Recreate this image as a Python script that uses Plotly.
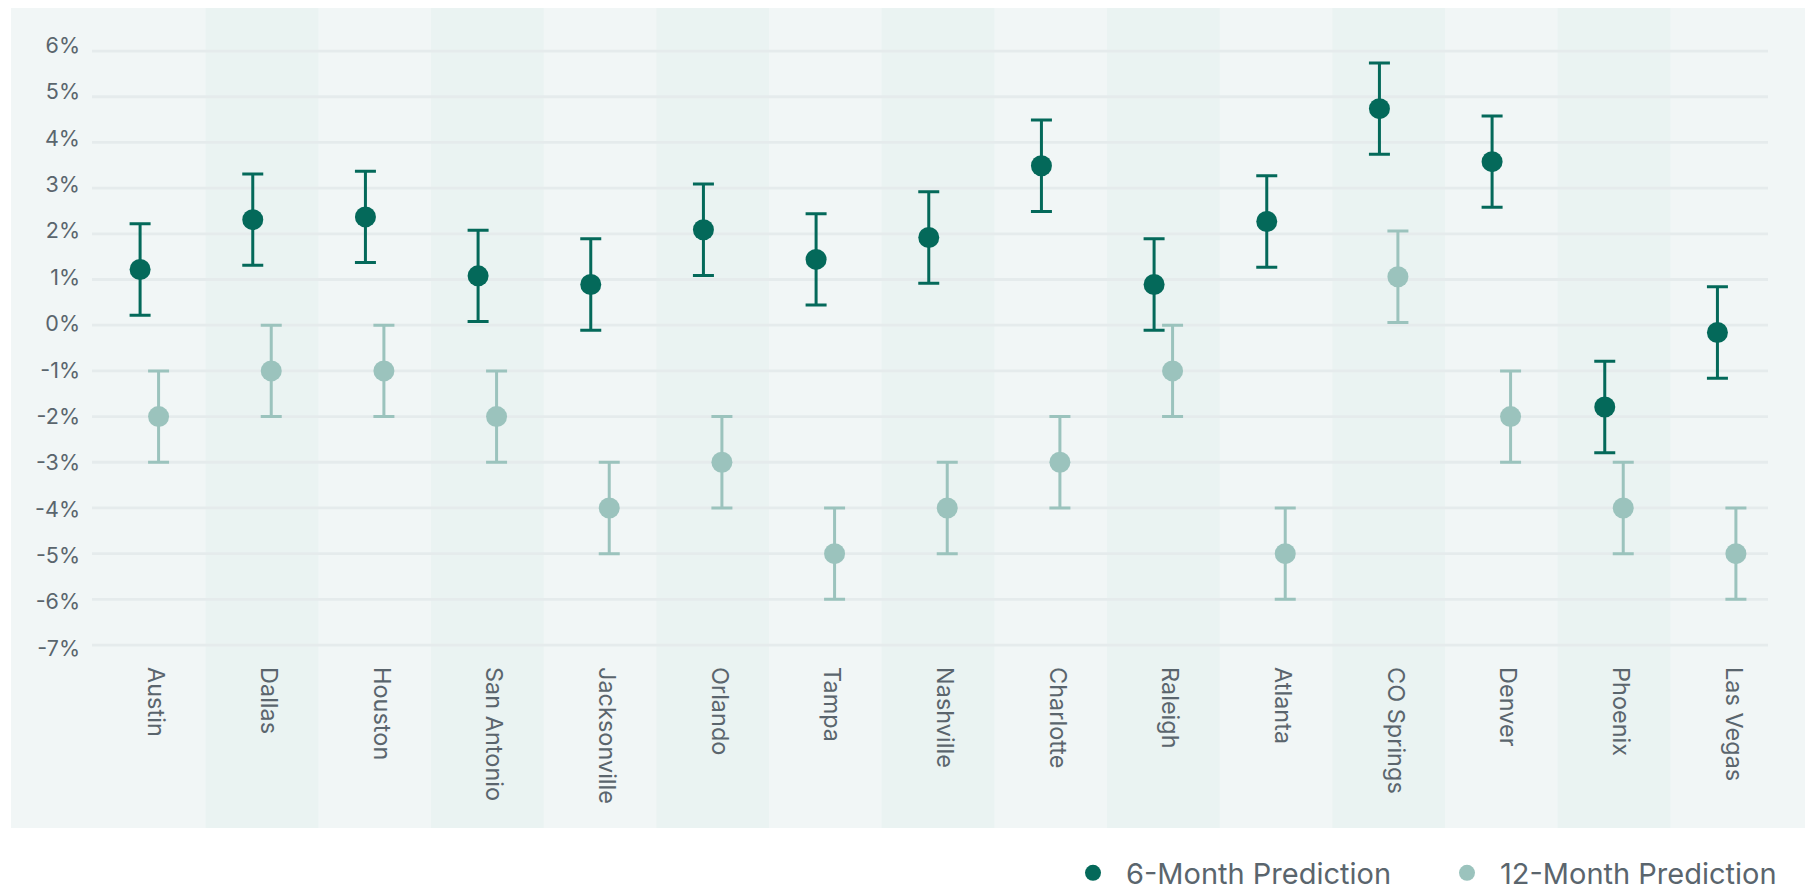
import plotly.graph_objects as go

# Metro areas and forecast values (percent change)
cities = ["Austin", "Dallas", "Houston", "San Antonio", "Jacksonville", "Orlando",
          "Tampa", "Nashville", "Charlotte", "Raleigh", "Atlanta", "CO Springs",
          "Denver", "Phoenix", "Las Vegas"]
six_month = [1.22, 2.31, 2.37, 1.08, 0.89, 2.09, 1.44, 1.92, 3.49, 0.89, 2.27, 4.74, 3.58, -1.79, -0.16]
six_month_err = [1.0] * 15
twelve_month = [-2.0, -1.0, -1.0, -2.0, -4.0, -3.0, -5.0, -4.0, -3.0, -1.0, -5.0, 1.06, -2.0, -4.0, -5.0]
twelve_month_err = [1.0] * 15
y_ticks = [-7, -6, -5, -4, -3, -2, -1, 0, 1, 2, 3, 4, 5, 6]
y_tick_text = [f"{v}%" for v in y_ticks]

DARK = "#04695A"
LIGHT = "#9BC3BD"
TEXT = "#5A656D"
BG = "#F1F6F6"
BAND = "#EAF3F2"
GRID = "#E5EBEC"
FONT = "Inter"

W, H = 1805, 890
L, R, T, B = 93, 22, 20, 230
plot_w = W - L - R
plot_h = H - T - B


def px_x(p):
    return (p - L) / plot_w


def px_y(p):
    return (H - B - p) / plot_h


n = len(cities)
idx = list(range(n))
shift = 0.082

fig = go.Figure()
fig.add_trace(go.Scatter(
    x=[i - shift for i in idx], y=six_month, mode="markers", name="6-Month Prediction",
    marker=dict(color=DARK, size=21),
    error_y=dict(type="data", array=six_month_err, color=DARK, thickness=3, width=10.5),
    hovertext=cities,
))
fig.add_trace(go.Scatter(
    x=[i + shift for i in idx], y=twelve_month, mode="markers", name="12-Month Prediction",
    marker=dict(color=LIGHT, size=21),
    error_y=dict(type="data", array=twelve_month_err, color=LIGHT, thickness=3, width=10.5),
    hovertext=cities,
))
# invisible trace carrying the percent labels on their own axis
fig.add_trace(go.Scatter(x=[0], y=[0], yaxis="y2", mode="markers",
                         marker=dict(opacity=0), showlegend=False, hoverinfo="skip"))

shapes = []
# panel background
shapes.append(dict(type="rect", xref="paper", yref="paper", layer="below",
                   x0=px_x(11), x1=px_x(W), y0=px_y(828), y1=px_y(8),
                   fillcolor=BG, line=dict(width=0)))
# alternating column bands
for i in idx:
    if i % 2 == 1:
        shapes.append(dict(type="rect", xref="x", yref="paper", layer="below",
                           x0=i - 0.5, x1=i + 0.5, y0=px_y(828), y1=px_y(8),
                           fillcolor=BAND, line=dict(width=0)))
# horizontal grid lines
for v in y_ticks:
    shapes.append(dict(type="line", xref="paper", yref="y", layer="below",
                       x0=px_x(92), x1=px_x(1768), y0=v, y1=v,
                       line=dict(color=GRID, width=2.8)))

# y scale: 0% at 325.2 px, 45.69 px per point
zero_px, per = 325.2, 45.69
y_range = [(zero_px - (H - B)) / per, (zero_px - T) / per]
# label axis, spaced slightly wider than the grid
lzero, lper = 323.6, 46.38
y2_range = [(lzero - (H - B)) / lper, (lzero - T) / lper]

fig.update_layout(
    width=W, height=H,
    margin=dict(l=L, r=R, t=T, b=B, autoexpand=False),
    paper_bgcolor="white", plot_bgcolor="rgba(0,0,0,0)",
    font=dict(family=FONT, color=TEXT),
    shapes=shapes,
    showlegend=True,
    legend=dict(orientation="h", x=px_x(1060), xanchor="left", y=px_y(873), yanchor="middle",
                font=dict(size=29, color=TEXT, family=FONT), itemwidth=56,
                entrywidth=303, bgcolor="rgba(0,0,0,0)", traceorder="normal"),
    xaxis=dict(range=[-0.5, n - 0.5], tickmode="array",
               tickvals=[i + 0.06 for i in idx], ticktext=cities, tickangle=90,
               showgrid=False, zeroline=False, showline=False, ticks="",
               tickfont=dict(size=23.5, color=TEXT, family=FONT), ticklabelstandoff=6),
    yaxis=dict(range=y_range, tickmode="array", tickvals=y_ticks, showticklabels=False,
               showgrid=False, zeroline=False, showline=False, ticks=""),
    yaxis2=dict(range=y2_range, overlaying="y", side="left", tickmode="array",
                tickvals=y_ticks, ticktext=y_tick_text, showgrid=False, zeroline=False,
                showline=False, ticks="", tickfont=dict(size=21.5, color=TEXT, family=FONT),
                ticklabelstandoff=12),
)

fig.write_html("out.html")
